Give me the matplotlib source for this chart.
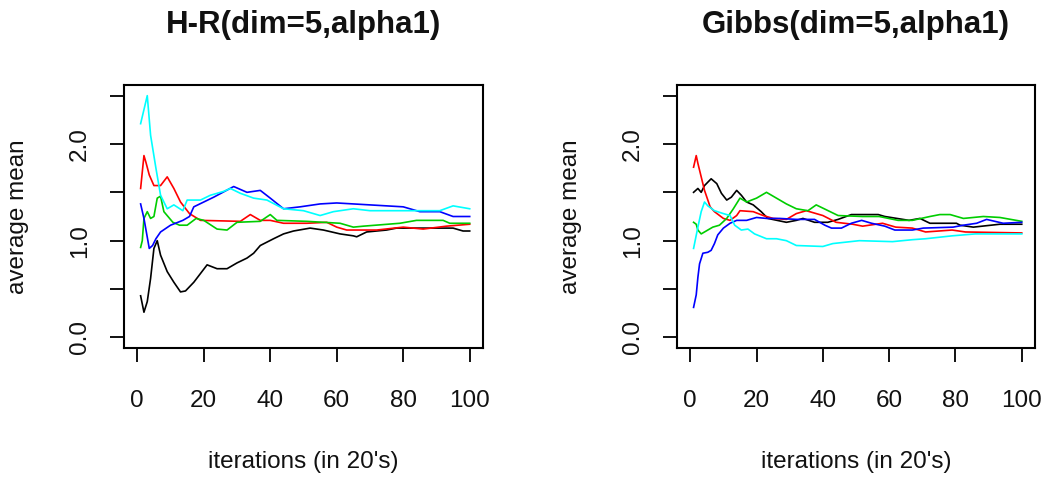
import numpy as np
import matplotlib
matplotlib.use("Agg")
import matplotlib.pyplot as plt

plt.rcParams["font.family"] = ["Liberation Sans", "DejaVu Sans"]

TITLES = ["H-R(dim=5,alpha1)", "Gibbs(dim=5,alpha1)"]
XLABEL = "iterations (in 20's)"
YLABEL = "average mean"
COLORS = ["black", "#FF0000", "#00CD00", "#0000FF", "#00FFFF"]

XTICKS = [0, 20, 40, 60, 80, 100]
YTICKS = [0.0, 0.5, 1.0, 1.5, 2.0, 2.5]
YTICK_LABELS = ["0.0", "", "1.0", "", "2.0", ""]

# H-R sampler, running average of the 5 coordinates
hr_black_x = [1, 2, 3, 4, 5, 6, 7, 9, 11, 13, 14.5, 17, 21, 24, 27, 30, 33, 35, 37, 41,
              44, 47, 52, 56, 61, 65, 66, 69, 75, 78, 95, 98, 100]
hr_black_y = [0.43, 0.26, 0.37, 0.61, 0.92, 1.00, 0.85, 0.68, 0.57, 0.47, 0.48, 0.57, 0.75,
              0.71, 0.71, 0.77, 0.82, 0.87, 0.95, 1.02, 1.07, 1.10, 1.13, 1.11, 1.07, 1.05,
              1.04, 1.09, 1.11, 1.13, 1.13, 1.10, 1.10]
hr_red_x = [1, 2, 2.6, 3.6, 5, 7, 9, 11, 13, 15.7, 19, 31, 34, 37, 40, 44, 51, 57, 60, 63,
            67, 72, 80, 86, 93, 100]
hr_red_y = [1.54, 1.88, 1.81, 1.68, 1.57, 1.57, 1.66, 1.54, 1.40, 1.28, 1.21, 1.20, 1.27,
            1.21, 1.21, 1.18, 1.18, 1.19, 1.14, 1.11, 1.11, 1.11, 1.14, 1.12, 1.15, 1.17]
hr_green_x = [1, 1.5, 2, 3, 4, 5, 6, 7, 8, 10.7, 12.7, 15, 17.7, 20, 24, 27, 30, 37, 40, 42,
              51, 61, 65, 68, 79, 84, 92, 94, 100]
hr_green_y = [0.93, 1.00, 1.23, 1.30, 1.23, 1.25, 1.44, 1.46, 1.30, 1.19, 1.16, 1.16, 1.23,
              1.21, 1.12, 1.11, 1.19, 1.20, 1.27, 1.21, 1.20, 1.18, 1.14, 1.15, 1.18, 1.21,
              1.21, 1.18, 1.18]
hr_blue_x = [1, 2, 3.6, 4.6, 5.6, 7, 10, 13.7, 15.7, 17, 20, 23, 29, 33, 37, 40, 44, 49, 55,
             60, 70, 80, 85, 91, 95, 100]
hr_blue_y = [1.38, 1.23, 0.92, 0.95, 1.02, 1.09, 1.16, 1.21, 1.25, 1.35, 1.40, 1.45, 1.56,
             1.50, 1.52, 1.44, 1.33, 1.35, 1.38, 1.39, 1.37, 1.35, 1.30, 1.30, 1.25, 1.25]
hr_cyan_x = [1, 3, 4, 5.6, 7, 9, 11, 13.7, 15, 19, 22, 26, 28, 31, 35, 39, 44, 50, 55, 59,
             65, 70, 82, 91, 95, 100]
hr_cyan_y = [2.21, 2.50, 2.09, 1.75, 1.47, 1.33, 1.37, 1.31, 1.42, 1.42, 1.47, 1.51, 1.54,
             1.49, 1.44, 1.42, 1.33, 1.31, 1.26, 1.30, 1.33, 1.31, 1.31, 1.31, 1.36, 1.33]

# Gibbs sampler
gb_black_x = [1, 2.3, 3.3, 4.3, 6.3, 8, 9.4, 11, 12.4, 14, 15.4, 17, 19, 21.4, 23.4, 29, 32,
              34, 37.5, 41.5, 44.6, 48.6, 56.7, 58.7, 66, 69.3, 72.3, 80.3, 81.4, 85.4, 93.4, 100]
gb_black_y = [1.50, 1.54, 1.50, 1.57, 1.64, 1.59, 1.49, 1.42, 1.45, 1.52, 1.47, 1.40, 1.37,
              1.30, 1.23, 1.19, 1.21, 1.23, 1.19, 1.19, 1.22, 1.27, 1.27, 1.25, 1.21, 1.23,
              1.18, 1.18, 1.16, 1.14, 1.17, 1.17]
gb_red_x = [1, 1.8, 2.3, 3.3, 4.3, 6, 7.3, 10, 12, 14, 15, 19, 22, 25, 29, 32, 35, 40, 44,
            49, 52, 58, 62, 67, 71, 79, 83, 100]
gb_red_y = [1.76, 1.88, 1.80, 1.66, 1.52, 1.35, 1.30, 1.23, 1.21, 1.26, 1.31, 1.30, 1.26,
            1.23, 1.22, 1.28, 1.31, 1.26, 1.19, 1.17, 1.15, 1.18, 1.14, 1.13, 1.09, 1.11,
            1.09, 1.08]
gb_green_x = [1, 1.8, 2.3, 3.3, 5.3, 6.8, 8.8, 11, 13, 15, 17, 20, 23, 26, 29, 32, 35.5, 38,
              41.6, 44.6, 52, 57, 62.7, 67, 72.3, 75.3, 78.4, 82.4, 88.4, 93.4, 100]
gb_green_y = [1.19, 1.17, 1.11, 1.07, 1.11, 1.14, 1.16, 1.23, 1.33, 1.44, 1.40, 1.44, 1.50,
              1.44, 1.38, 1.33, 1.31, 1.37, 1.31, 1.26, 1.25, 1.25, 1.21, 1.21, 1.25, 1.27,
              1.27, 1.23, 1.25, 1.24, 1.20]
gb_blue_x = [1, 1.8, 2.3, 2.8, 3.8, 5.3, 6.3, 7.3, 8.3, 10, 12, 14, 17, 20, 23, 27, 32, 37.5,
             40.6, 42.6, 45.6, 48.6, 51.7, 54.7, 58.7, 61.7, 67, 70.3, 79.3, 82.4, 86.4,
             89.4, 94.4, 100]
gb_blue_y = [0.31, 0.44, 0.62, 0.76, 0.87, 0.88, 0.90, 0.97, 1.06, 1.13, 1.18, 1.21, 1.21,
             1.24, 1.23, 1.23, 1.22, 1.22, 1.16, 1.13, 1.13, 1.18, 1.21, 1.18, 1.15, 1.11,
             1.11, 1.13, 1.14, 1.16, 1.18, 1.22, 1.18, 1.19]
gb_cyan_x = [1, 2.3, 3.3, 4.3, 5.3, 7.3, 10, 12, 13.4, 15.4, 17.4, 19.4, 23, 26, 29, 32, 40,
             43, 51, 61, 67, 71, 79, 86, 100]
gb_cyan_y = [0.92, 1.14, 1.30, 1.40, 1.36, 1.31, 1.28, 1.26, 1.16, 1.11, 1.12, 1.07, 1.02,
             1.02, 1.00, 0.95, 0.94, 0.97, 1.00, 0.99, 1.01, 1.02, 1.05, 1.07, 1.07]


def draw_panel(fig, rect, title, series):
    ax = fig.add_axes(rect)
    for (xs, ys), col in zip(series, COLORS):
        ax.plot(xs, ys, color=col, lw=1.2)

    ax.set_xlim(-4, 104)
    ax.set_ylim(-0.11, 2.61)
    ax.set_xticks(XTICKS)
    ax.set_xticklabels([str(t) for t in XTICKS])
    ax.set_yticks(YTICKS)
    ax.set_yticklabels(YTICK_LABELS, rotation=90, va="center")

    for sp in ax.spines.values():
        sp.set_linewidth(1.5)
    ax.tick_params(axis="both", direction="out", length=10, width=1.4,
                   labelsize=17.5, colors="#111111")
    ax.tick_params(axis="x", pad=20)
    ax.tick_params(axis="y", pad=14)

    # title / labels placed like R's mtext lines
    l, b, w, h = rect
    cx = l + w / 2
    fig.text(cx, 1 - 25 / 479, title, ha="center", va="center",
             fontsize=22.5, fontweight="bold", color="#111111")
    fig.text(cx, 1 - 462 / 479, XLABEL, ha="center", va="center",
             fontsize=17.5, color="#111111")
    fig.text(l - 106 / 1043, b + h / 2, YLABEL, ha="center", va="center",
             rotation=90, fontsize=17.5, color="#111111")
    return ax


def main():
    fig = plt.figure(figsize=(10.43, 4.79), dpi=100)

    hr = [(hr_black_x, hr_black_y), (hr_red_x, hr_red_y), (hr_green_x, hr_green_y),
          (hr_blue_x, hr_blue_y), (hr_cyan_x, hr_cyan_y)]
    gb = [(gb_black_x, gb_black_y), (gb_red_x, gb_red_y), (gb_green_x, gb_green_y),
          (gb_blue_x, gb_blue_y), (gb_cyan_x, gb_cyan_y)]

    bottom = 1 - 348 / 479
    height = 263 / 479
    draw_panel(fig, [124 / 1043, bottom, 359 / 1043, height], TITLES[0], hr)
    draw_panel(fig, [677 / 1043, bottom, 358 / 1043, height], TITLES[1], gb)

    fig.savefig("out.png", dpi=100)
    plt.close(fig)


if __name__ == "__main__":
    main()
